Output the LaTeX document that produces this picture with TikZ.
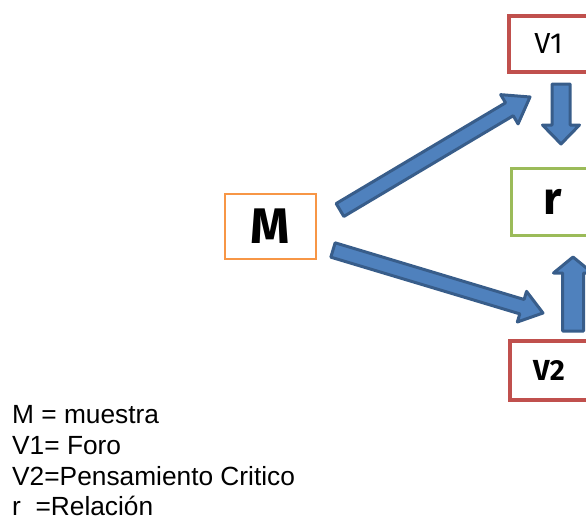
\documentclass[tikz,border=0pt]{standalone}
\usepackage{fontspec}
\setmainfont{Liberation Sans}
\newfontfamily\boxfont{Fira Sans}
\usetikzlibrary{calc}
\definecolor{boxred}{HTML}{C0504D}
\definecolor{boxgreen}{HTML}{9BBB59}
\definecolor{boxorange}{HTML}{F79646}
\definecolor{arrfill}{HTML}{4F81BD}
\definecolor{arrline}{HTML}{385D8A}
\tikzset{
  box/.style={draw, fill=white, inner sep=0pt},
  blockarr/.style={draw=arrline, fill=arrfill, line width=3pt, line join=round},
  legend/.style={anchor=base west, inner sep=0pt, font=\fontsize{26.3}{31}\selectfont}
}
% #1 tail, #2 tip, #3 shaft half width, #4 head half width, #5 head length
\newcommand\blockarrow[5]{%
  \coordinate (#1-#2-n) at ($(#2)!#5!(#1)$);
  \draw[blockarr] ($(#1)!#3!90:(#2)$) -- ($(#1-#2-n)!#3!-90:(#1)$) -- ($(#1-#2-n)!#4!-90:(#1)$)
    -- (#2) -- ($(#1-#2-n)!#4!90:(#1)$) -- ($(#1-#2-n)!#3!90:(#1)$) -- ($(#1)!#3!-90:(#2)$) -- cycle;
}
\begin{document}
\begin{tikzpicture}[x=1pt,y=-1pt]
\useasboundingbox (0,0) rectangle (586,522);
\clip (0,0) rectangle (586,522);
% boxes
\node[box, draw=boxred, line width=4pt, minimum width=79pt, minimum height=56pt] (V1) at (548.5,44) {\boxfont\fontsize{29}{30}\selectfont V1};
\node[box, draw=boxgreen, line width=3pt, minimum width=83pt, minimum height=67pt] (r) at (553,202) {\boxfont\bfseries\fontsize{46}{48}\selectfont r};
\node[box, draw=boxred, line width=4pt, minimum width=78pt, minimum height=59pt] (V2) at (549,370.5) {\boxfont\bfseries\fontsize{29}{30}\selectfont V2};
\node[box, draw=boxorange, line width=2pt, minimum width=91pt, minimum height=65pt] (M) at (270.5,226.5) {\boxfont\bfseries\fontsize{50}{52}\selectfont M};
% arrow end points
\coordinate (t1) at (340,210);
\coordinate (p1) at (530,97);
\coordinate (t2) at (333,250);
\coordinate (p2) at (543,313);
\coordinate (t3) at (561,84);
\coordinate (p3) at (561,144);
\coordinate (t4) at (573,331);
\coordinate (p4) at (573,257);
\blockarrow{t1}{p1}{7.5pt}{17pt}{24pt}
\blockarrow{t2}{p2}{7.5pt}{16pt}{22pt}
\blockarrow{t3}{p3}{9pt}{18.5pt}{19pt}
\blockarrow{t4}{p4}{10.5pt}{19.5pt}{16pt}
% legend
\node[legend] (l1) at (12,423) {M = muestra};
\node[legend] (l2) at (12,454) {V1= Foro};
\node[legend] (l3) at (12,485) {V2=Pensamiento Critico};
\node[legend] (l4) at (12,515) {r\ \ =Relación};
\end{tikzpicture}
\end{document}
